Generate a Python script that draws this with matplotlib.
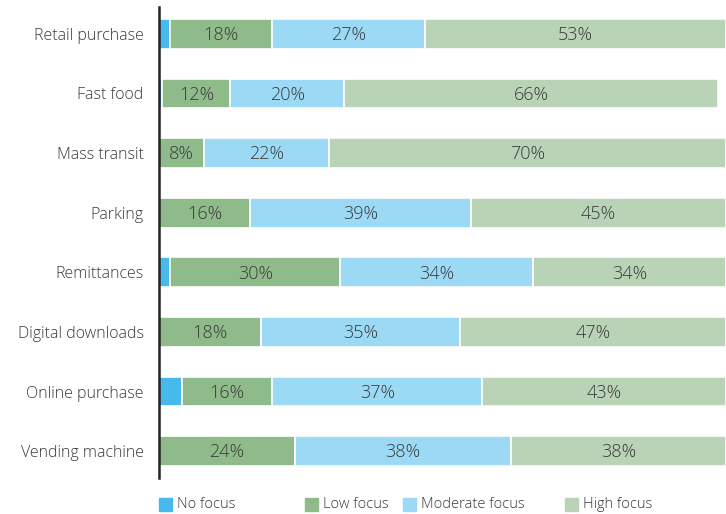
import matplotlib.pyplot as plt
from matplotlib.patches import Rectangle

plt.rcParams["font.family"] = ["Open Sans", "DejaVu Sans"]

categories = [
    "Retail purchase", "Fast food", "Mass transit", "Parking",
    "Remittances", "Digital downloads", "Online purchase", "Vending machine",
]
series_names = ["No focus", "Low focus", "Moderate focus", "High focus"]
no_focus = [2, 0.6, 0, 0, 2, 0, 4, 0]
low_focus = [18, 12, 8, 16, 30, 18, 16, 24]
moderate_focus = [27, 20, 22, 39, 34, 35, 37, 38]
high_focus = [53, 66, 70, 45, 34, 47, 43, 38]

colors = ["#47b9ec", "#8fbb8a", "#9bd9f5", "#b9d3b7"]
text_color = "#3a3a3a"

fig = plt.figure(figsize=(7.26, 5.14), dpi=100)
ax = fig.add_axes([159 / 726, 1 - 481 / 514, 567 / 726, 477 / 514])

series = [no_focus, low_focus, moderate_focus, high_focus]
ypos = list(range(len(categories)))
left = [0.0] * len(categories)
for i, (name, vals) in enumerate(zip(series_names, series)):
    ax.barh(ypos, vals, left=left, height=0.5, color=colors[i],
            edgecolor="white", linewidth=1.2, label=name)
    if i > 0:
        for y, l, v in zip(ypos, left, vals):
            ax.text(l + v / 2, y + 0.02, f"{v:.0f}%", ha="center", va="center",
                    fontsize=13, fontweight="light", color=text_color)
    left = [l + v for l, v in zip(left, vals)]

ax.set_xlim(0, 100)
ax.set_ylim(len(categories) - 0.5, -0.5)
ax.set_yticks(ypos)
ax.set_yticklabels(categories, fontsize=11.5, fontweight="light",
                   color=text_color)
ax.tick_params(axis="y", length=0, pad=11)
ax.set_xticks([])
for side in ["top", "right", "bottom"]:
    ax.spines[side].set_visible(False)
ax.spines["left"].set_color("#222222")
ax.spines["left"].set_linewidth(1.8)
ax.spines["left"].set_bounds(len(categories) - 0.55, -0.45)

# legend row drawn by hand so the items keep their uneven spacing
legend_x = [159, 305, 403, 565]
for x, name, c in zip(legend_x, series_names, colors):
    fig.patches.append(Rectangle((x / 726, 1 - 511 / 514), 13 / 726, 13 / 514,
                                 transform=fig.transFigure, color=c))
    fig.text((x + 18) / 726, 1 - 504 / 514, name, ha="left", va="center",
             fontsize=10.5, fontweight="light", color=text_color)

fig.savefig("out.png", dpi=100)
